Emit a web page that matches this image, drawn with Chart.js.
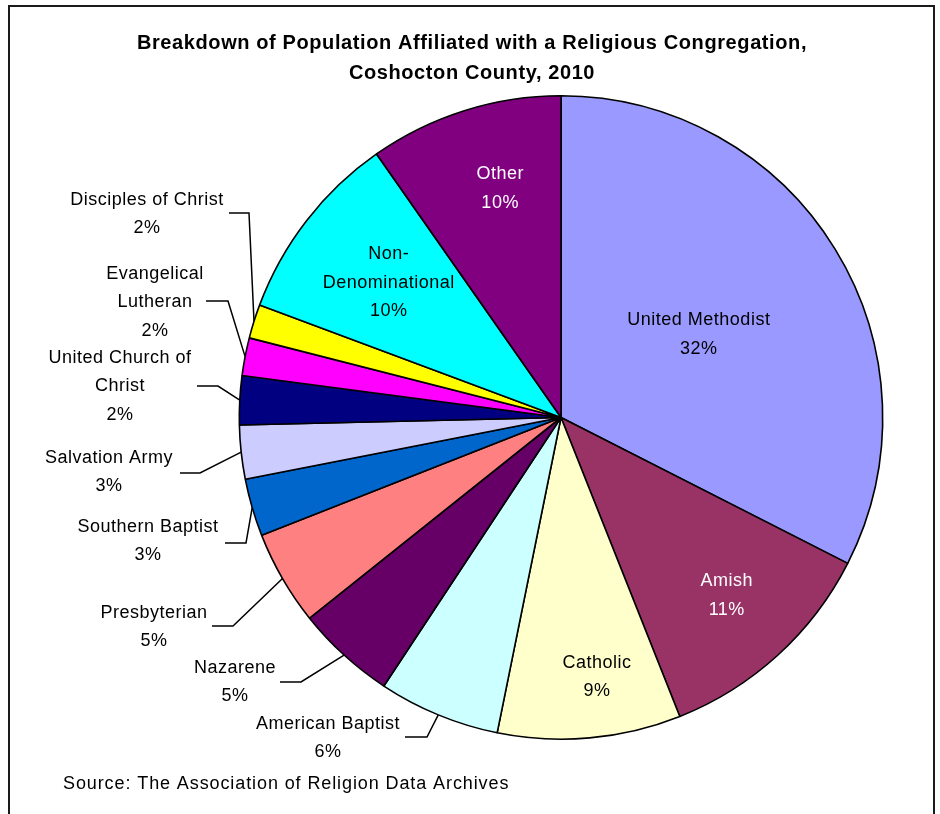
<!DOCTYPE html>
<html>
<head>
<meta charset="utf-8">
<title>Religious Congregations, Coshocton County, 2010</title>
<script src="https://cdn.jsdelivr.net/npm/chart.js@4.4.1/dist/chart.umd.min.js"></script>
<style>
  html, body { margin: 0; padding: 0; background: #fff; }
  #wrap { position: relative; width: 940px; height: 814px; overflow: hidden; }
  #frame { position: absolute; left: 8px; top: 5px; width: 927px; height: 900px;
           border: 2px solid #1a1a1a; box-sizing: border-box; }
  #pie { position: absolute; left: 0; top: 0; }
</style>
</head>
<body>
<div id="wrap">
  <div id="frame"></div>
  <canvas id="pie" width="940" height="814"></canvas>
</div>
<script>
// ── DATA ────────────────────────────────────────────────────────────
const categories = [
  'United Methodist', 'Amish', 'Catholic', 'American Baptist', 'Nazarene',
  'Presbyterian', 'Southern Baptist', 'Salvation Army', 'United Church of Christ',
  'Evangelical Lutheran', 'Disciples of Christ', 'Non-Denominational', 'Other'
];
// share of affiliated population, %
const shares = [32.49, 11.49, 9.2, 6.1, 5.0, 4.75, 2.9, 2.7, 2.45, 1.9, 1.7, 9.6, 9.72];
// how each category name wraps in its label
const labelLines = [
  ['United Methodist'], ['Amish'], ['Catholic'], ['American Baptist'], ['Nazarene'],
  ['Presbyterian'], ['Southern Baptist'], ['Salvation Army'], ['United Church of', 'Christ'],
  ['Evangelical', 'Lutheran'], ['Disciples of Christ'], ['Non-', 'Denominational'], ['Other']
];
const colors = [
  '#9999ff', '#993366', '#ffffcc', '#ccffff', '#660066',
  '#ff8080', '#0066cc', '#ccccff', '#000080',
  '#ff00ff', '#ffff00', '#00ffff', '#800080'
];

const titleLines = ['Breakdown of Population Affiliated with a Religious Congregation,',
                    'Coshocton County, 2010'];
const sourceNote = 'Source: The Association of Religion Data Archives';

// ── LABEL LAYOUT ────────────────────────────────────────────────────
const FONT = '"Liberation Sans", Arial, sans-serif';
const LINE_H = 28.5;

// labels drawn inside their slice: radius fraction, angle nudge (deg), text colour
const insideLabels = {
  0:  { r: 0.50, da: 0.5,  color: '#000' },
  1:  { r: 0.756, da: -0.6, color: '#fff' },
  2:  { r: 0.815, da: -2.8, color: '#000' },
  11: { r: 0.68, da: 0.3,  color: '#000' },
  12: { r: 0.736, da: 2.6, color: '#fff' }
};
// labels outside with a leader: text centre x / first line y, elbow (ex,ey), line end hx
const outsideLabels = {
  3:  { x: 328, y: 724, ex: 427, ey: 737, hx: 405 },
  4:  { x: 235, y: 668, ex: 301, ey: 682, hx: 280 },
  5:  { x: 154, y: 613, ex: 233, ey: 626, hx: 212 },
  6:  { x: 148, y: 527, ex: 246, ey: 543, hx: 225 },
  7:  { x: 109, y: 458, ex: 200, ey: 473, hx: 180 },
  8:  { x: 120, y: 358, ex: 218, ey: 386, hx: 197 },
  9:  { x: 155, y: 274, ex: 228, ey: 301, hx: 206 },
  10: { x: 147, y: 200, ex: 249, ey: 213, hx: 229 }
};

// ── PLUGIN: titles, slice labels, leader lines ─────────────────────
const pieText = {
  id: 'pieText',
  afterDatasetsDraw(chart) {
    const ctx = chart.ctx;
    const arcs = chart.getDatasetMeta(0).data;
    ctx.save();
    ctx.textBaseline = 'middle';

    // title
    ctx.fillStyle = '#000';
    ctx.textAlign = 'center';
    ctx.font = 'bold 20px ' + FONT;
    ctx.letterSpacing = '0.6px';
    ctx.fillText(titleLines[0], 472, 43);
    ctx.fillText(titleLines[1], 472, 73);

    ctx.font = '18px ' + FONT;
    ctx.letterSpacing = '0.5px';

    arcs.forEach((arc, i) => {
      const p = arc.getProps(['x', 'y', 'startAngle', 'endAngle', 'outerRadius'], true);
      const mid = (p.startAngle + p.endAngle) / 2;
      const lines = labelLines[i].concat([Math.round(shares[i]) + '%']);
      const ins = insideLabels[i];
      ctx.textAlign = 'center';
      if (ins) {
        const a = mid + ins.da * Math.PI / 180;
        const r = p.outerRadius * ins.r;
        const cx = p.x + Math.cos(a) * r;
        const cy = p.y + Math.sin(a) * r;
        const y0 = cy - (lines.length - 1) * LINE_H / 2;
        ctx.fillStyle = ins.color;
        lines.forEach((t, k) => ctx.fillText(t, cx, y0 + k * LINE_H));
      } else {
        const o = outsideLabels[i];
        ctx.beginPath();
        ctx.moveTo(p.x + Math.cos(mid) * p.outerRadius, p.y + Math.sin(mid) * p.outerRadius);
        ctx.lineTo(o.ex, o.ey);
        ctx.lineTo(o.hx, o.ey);
        ctx.strokeStyle = '#000';
        ctx.lineWidth = 1.5;
        ctx.stroke();
        ctx.fillStyle = '#000';
        lines.forEach((t, k) => ctx.fillText(t, o.x, o.y + k * LINE_H));
      }
    });

    // source note
    ctx.textAlign = 'left';
    ctx.fillStyle = '#000';
    ctx.letterSpacing = '0.9px';
    ctx.fillText(sourceNote, 63, 784);
    ctx.restore();
  }
};

// ── PIE ─────────────────────────────────────────────────────────────
new Chart(document.getElementById('pie'), {
  type: 'pie',
  data: {
    labels: categories,
    datasets: [{
      data: shares,
      backgroundColor: colors,
      borderColor: '#000',
      borderWidth: 1.6,
      hoverOffset: 0,
      offset: 0
    }]
  },
  options: {
    responsive: false,
    animation: false,
    events: [],
    layout: { padding: { left: 238, top: 95, right: 56, bottom: 74 } },
    plugins: {
      legend: { display: false },
      tooltip: { enabled: false },
      title: { display: false }
    }
  },
  plugins: [pieText]
});
</script>
</body>
</html>
